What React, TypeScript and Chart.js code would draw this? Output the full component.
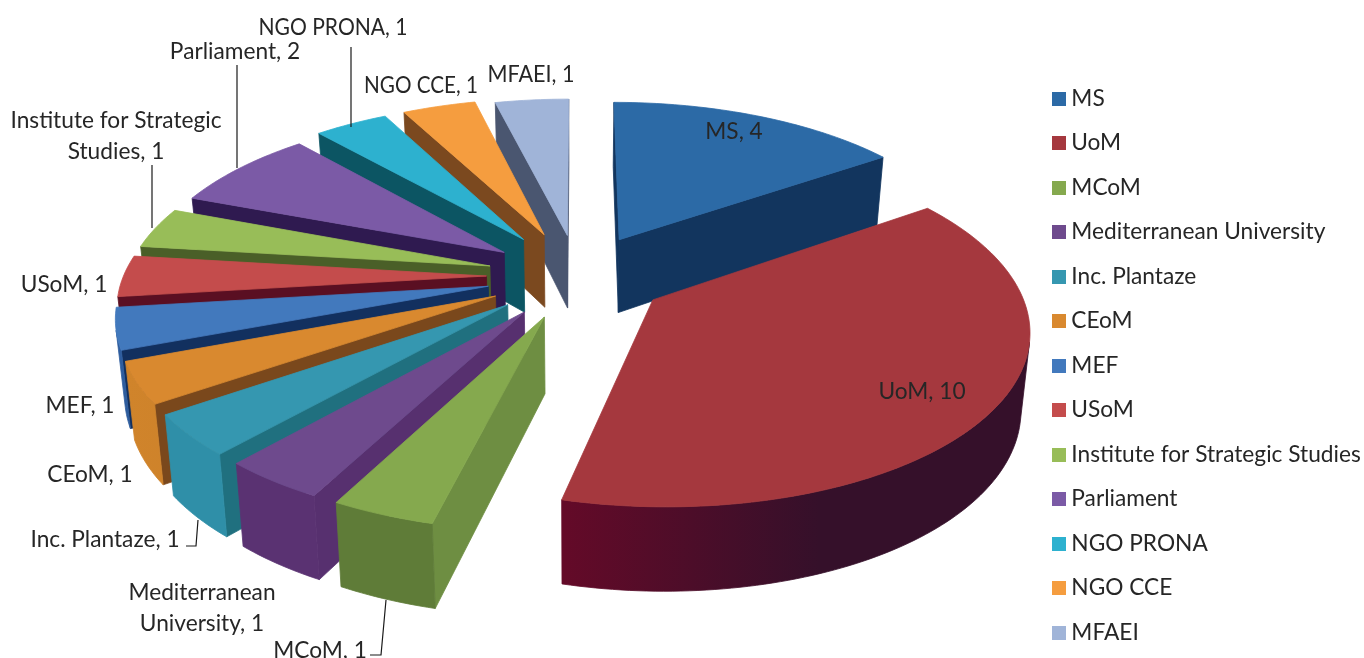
import React, { useEffect, useRef } from "react";
import { Chart, registerables } from "chart.js";

Chart.register(...registerables);

const categories = ["MS", "UoM", "MCoM", "Mediterranean University", "Inc. Plantaze", "CEoM", "MEF", "USoM", "Institute for Strategic Studies", "Parliament", "NGO PRONA", "NGO CCE", "MFAEI"];
const values = [4, 10, 1, 1, 1, 1, 1, 1, 1, 2, 1, 1, 1];

const topColors = ["#2C6AA6", "#A5383E", "#85A94E", "#6E4A8D", "#3597B0", "#D9892F", "#4279BD", "#C44C4C", "#98BD58", "#7B5AA6", "#2DB1CF", "#F59D3F", "#A0B4D8"];
const radialColors = ["#12355E", "#5F0A25", "#6E8E42", "#57306F", "#20707F", "#7A481C", "#12305F", "#5A0F22", "#4A5F28", "#2F1A50", "#0C5563", "#7B491F", "#4A5670"];
const outerLeftColors = ["#12355E", "#640A28", "#5F7C38", "#5A3272", "#2F8FA8", "#D0842B", "#2E5D9E", "#5A0F22", "#4A5F28", "#2F1A50", "#0C5563", "#7B491F", "#4A5670"];
const outerRightColors = ["#12355E", "#35102A", "#5F7C38", "#5A3272", "#2F8FA8", "#C97E28", "#2E5D9E", "#5A0F22", "#4A5F28", "#2F1A50", "#0C5563", "#7B491F", "#4A5670"];
const explodeOffsets = [73, 71, 73, 73, 73, 73, 73, 73, 73, 73, 79, 79, 73];

// label layout: centre of each text line, in page pixels
const labelLines = [["MS, 4"], ["UoM, 10"], ["MCoM, 1"], ["Mediterranean", "University, 1"], ["Inc. Plantaze, 1"], ["CEoM, 1"], ["MEF, 1"], ["USoM, 1"], ["Institute for Strategic", "Studies, 1"], ["Parliament, 2"], ["NGO PRONA, 1"], ["NGO CCE, 1"], ["MFAEI, 1"]];
const labelAt = [[734, 132], [922, 392], [320, 651], [202, 593], [105, 540], [90, 475], [80, 406], [64, 285], [116, 121], [235, 52], [333, 28], [421, 86], [531, 75]];
const labelMaxWidth = [999, 999, 999, 999, 999, 999, 999, 999, 999, 999, 149, 114, 87];
const leaders = [[[152, 165], [152, 228]], [[237, 65], [237, 168]], [[351, 47], [351, 127]], [[186, 546], [196, 546], [198, 520]], [[370, 655], [381, 655], [386, 600]]];

const FONT = "Lato";
const FONT_SIZE = 22.7;
const TEXT = "#262626";
const P = { cx: 578, cy: 276, a: 168, b: 363, k: 0.15, d0: 74.7, d1: 8.5, inward: 0.02 };

function project(u: number, v: number, bottom: boolean) {
  const w = 1 - P.k * v;
  let x = P.cx + (P.b * u) / w;
  let y = P.cy + (P.a * v) / w;
  if (bottom) {
    y += P.d0 + P.d1 * v;
    x += (P.cx - x) * P.inward;
  }
  return [x, y];
}

function quad(ctx: CanvasRenderingContext2D, pts: number[][], fill: any) {
  ctx.beginPath();
  pts.forEach((p, i) => (i ? ctx.lineTo(p[0], p[1]) : ctx.moveTo(p[0], p[1])));
  ctx.closePath();
  ctx.fillStyle = fill;
  ctx.strokeStyle = fill;
  ctx.lineWidth = 0.8;
  ctx.fill();
  ctx.stroke();
}

function area(p: number[][]) {
  let s = 0;
  for (let i = 0; i < p.length; i++) {
    const q = p[(i + 1) % p.length];
    s += p[i][0] * q[1] - q[0] * p[i][1];
  }
  return s;
}

const pie3d = {
  id: "pie3d",
  afterLayout(chart: any) {
    const lg = chart.legend;
    if (lg) {
      lg.left = 1058 - lg.options.labels.padding;
      lg.top = 87.2 - lg.options.labels.padding;
      lg.bottom = 900;
      lg.right = 1364;
    }
  },
  beforeDatasetsDraw(chart: any) {
    const ctx: CanvasRenderingContext2D = chart.ctx;
    const arcs: any[] = chart.getDatasetMeta(0).data;
    const order = arcs.map((_, i) => i).sort((p, q) => {
      const m = (e: any) => Math.sin((e.startAngle + e.endAngle) / 2);
      return m(arcs[p]) - m(arcs[q]);
    });
    for (const i of order) {
      const e = arcs[i];
      const s = e.startAngle, t = e.endAngle, mid = (s + t) / 2;
      const ex = e.options.offset / e.outerRadius;
      const ou = ex * Math.cos(mid), ov = ex * Math.sin(mid);
      const uv: number[][] = [[ou, ov]];
      const n = Math.max(4, Math.ceil((t - s) / 0.02));
      for (let j = 0; j <= n; j++) {
        const g = s + ((t - s) * j) / n;
        uv.push([ou + Math.cos(g), ov + Math.sin(g)]);
      }
      const top = uv.map((c) => project(c[0], c[1], false));
      const bot = uv.map((c) => project(c[0], c[1], true));
      const xs = top.map((c) => c[0]);
      const grad = ctx.createLinearGradient(Math.min(...xs), 0, Math.max(...xs), 0);
      grad.addColorStop(0, outerLeftColors[i]);
      grad.addColorStop(0.55, outerRightColors[i]);
      grad.addColorStop(1, outerRightColors[i]);
      const m = top.length;
      // radial walls (first and last edge of the slice outline)
      for (const [j, k] of [[0, 1], [m - 1, 0]]) {
        const q = [top[j], top[k], bot[k], bot[j]];
        if (area(q) < 0) quad(ctx, q, radialColors[i]);
      }
      // outer rim: consecutive front-facing segments form one polygon
      let run: number[] = [];
      const flush = () => {
        if (run.length > 1) {
          quad(ctx, [...run.map((r) => top[r]), ...run.slice().reverse().map((r) => bot[r])], grad);
        }
        run = [];
      };
      for (let j = 1; j < m - 1; j++) {
        const q = [top[j], top[j + 1], bot[j + 1], bot[j]];
        if (area(q) < 0) {
          if (!run.length) run.push(j);
          run.push(j + 1);
        } else flush();
      }
      flush();
      quad(ctx, top, topColors[i]);
    }
    ctx.save();
    ctx.strokeStyle = "#1a1a1a";
    ctx.lineWidth = 1.2;
    for (const l of leaders) {
      ctx.beginPath();
      l.forEach((p, i) => (i ? ctx.lineTo(p[0], p[1]) : ctx.moveTo(p[0], p[1])));
      ctx.stroke();
    }
    ctx.font = `${FONT_SIZE}px ${FONT}`;
    ctx.fillStyle = TEXT;
    ctx.textAlign = "center";
    ctx.textBaseline = "middle";
    labelLines.forEach((lines, i) => {
      lines.forEach((txt, j) => ctx.fillText(txt, labelAt[i][0], labelAt[i][1] + j * 30.5, labelMaxWidth[i]));
    });
    ctx.restore();
    return false;
  },
};

function swatch(color: string) {
  const c = document.createElement("canvas");
  c.width = 14;
  c.height = 14;
  const g = c.getContext("2d")!;
  g.fillStyle = color;
  g.fillRect(0, 0, 14, 14);
  return c;
}

export default function App() {
  const ref = useRef<HTMLCanvasElement>(null);
  useEffect(() => {
    const chart = new Chart(ref.current!, {
      type: "pie",
      data: {
        labels: categories,
        datasets: [{ data: values, backgroundColor: topColors, borderWidth: 0, offset: explodeOffsets }],
      },
      options: {
        animation: false,
        responsive: false,
        plugins: {
          tooltip: { enabled: false },
          legend: {
            position: "right",
            align: "start",
            labels: {
              usePointStyle: true,
              pointStyleWidth: 2,
              boxHeight: 14,
              padding: 21.8,
              color: TEXT,
              font: { family: FONT, size: FONT_SIZE },
              generateLabels: () =>
                categories.map((text, i) => ({ text, pointStyle: swatch(topColors[i]), fillStyle: topColors[i], strokeStyle: topColors[i], lineWidth: 0, hidden: false, index: i, fontColor: TEXT })),
            },
          },
        },
      },
      plugins: [pie3d],
    } as any);
    return () => chart.destroy();
  }, []);
  return (
    <div style={{ position: "fixed", left: 0, top: 0, background: "#fff" }}>
      <canvas ref={ref} width={1364} height={658} style={{ display: "block" }} />
    </div>
  );
}
